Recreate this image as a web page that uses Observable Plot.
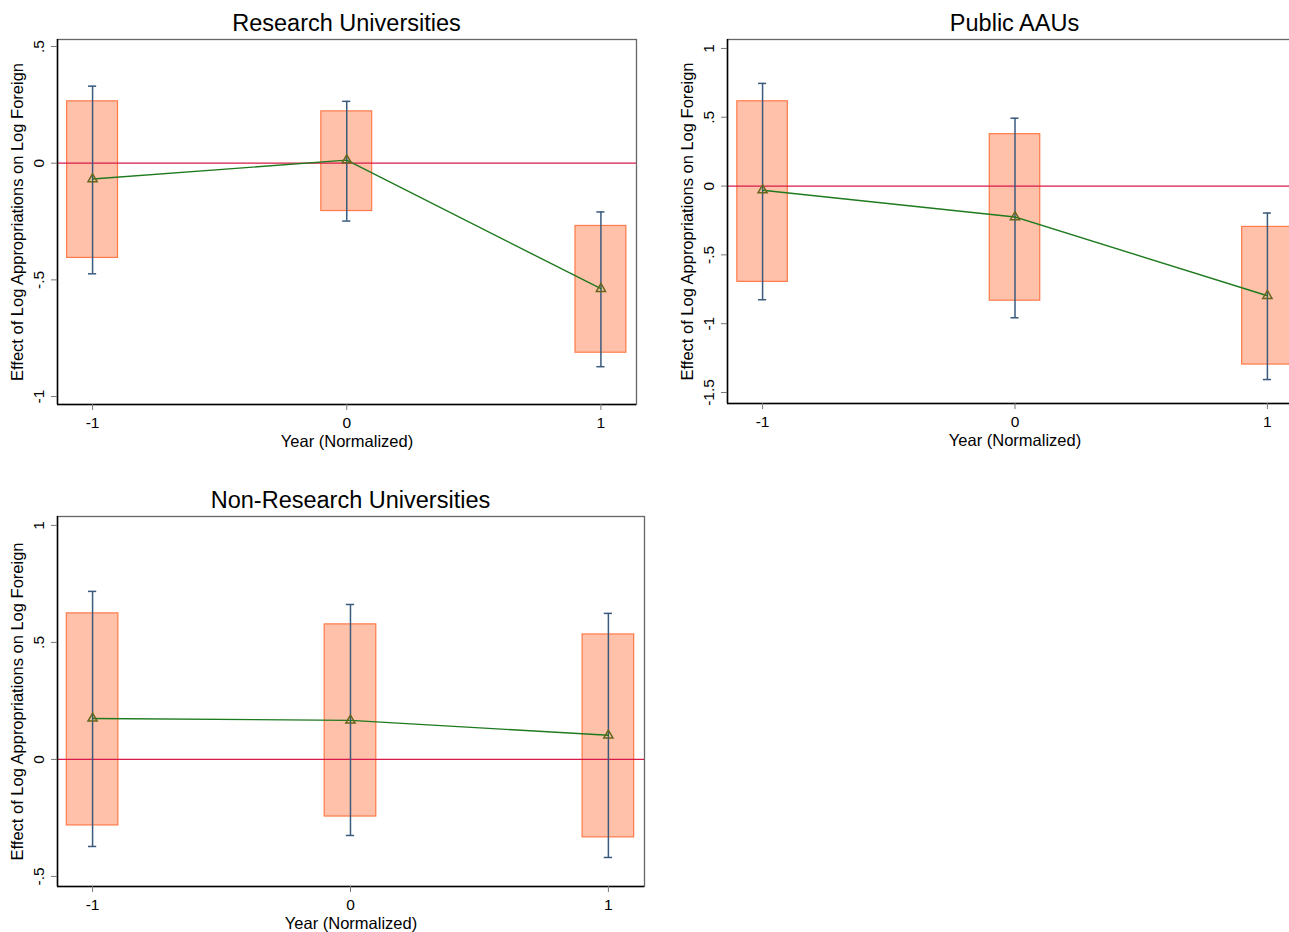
<!DOCTYPE html>
<html><head><meta charset="utf-8">
<script src="https://cdn.jsdelivr.net/npm/d3@7"></script>
<script src="https://cdn.jsdelivr.net/npm/@observablehq/plot@0.6"></script>
<style>
html,body{margin:0;padding:0;background:#fff;overflow:hidden;width:1289px;height:932px;position:relative;}
.panel{position:absolute;}
.panel svg{max-width:none !important;display:block;}
.title{position:absolute;font-family:"Liberation Sans",Arial,sans-serif;font-size:23.5px;color:#000;text-align:center;white-space:nowrap;line-height:26px;}
</style></head><body>
<script>
// ---- data ----
const years = [-1, 0, 1];
const xTicks = [-1, 0, 1];
const xLabel = "Year (Normalized)";
const yLabel = "Effect of Log Appropriations on Log Foreign";

const titles = ["Research Universities", "Public AAUs", "Non-Research Universities"];

// Research Universities
const resEst  = [-0.068, 0.013, -0.538];
const resLo90 = [-0.406, -0.205, -0.812];
const resHi90 = [0.265, 0.222, -0.269];
const resLo95 = [-0.474, -0.248, -0.872];
const resHi95 = [0.330, 0.265, -0.209];
const resTicks = [0.5, 0, -0.5, -1];

// Public AAUs
const aauEst  = [-0.030, -0.225, -0.797];
const aauLo90 = [-0.696, -0.833, -1.297];
const aauHi90 = [0.616, 0.377, -0.297];
const aauLo95 = [-0.826, -0.957, -1.406];
const aauHi95 = [0.746, 0.493, -0.196];
const aauTicks = [1, 0.5, 0, -0.5, -1, -1.5];

// Non-Research Universities
const nonEst  = [0.175, 0.167, 0.103];
const nonLo90 = [-0.282, -0.244, -0.333];
const nonHi90 = [0.624, 0.577, 0.534];
const nonLo95 = [-0.372, -0.325, -0.419];
const nonHi95 = [0.718, 0.662, 0.624];
const nonTicks = [1, 0.5, 0, -0.5];

const FONT = '"Liberation Sans", Arial, sans-serif';
const fmt = d => d === 0 ? "0" : String(d).replace("0.", ".");

function panel(cfg) {
  const data = years.map((x, i) => ({x, est: cfg.est[i], lo90: cfg.lo90[i], hi90: cfg.hi90[i], lo95: cfg.lo95[i], hi95: cfg.hi95[i]}));
  const half = 0.1, cap = 0.016;
  const chart = Plot.plot({
    width: cfg.width, height: cfg.height,
    marginLeft: cfg.ml, marginRight: cfg.mr, marginTop: cfg.mt, marginBottom: cfg.mb,
    style: {fontFamily: FONT, fontSize: "16px", color: "#000", background: "transparent", overflow: "visible", maxWidth: "none"},
    x: {domain: cfg.xDomain},
    y: {domain: cfg.yDomain},
    marks: [
      Plot.rect(data, {x1: d => d.x - half, x2: d => d.x + half, y1: "lo90", y2: "hi90", fill: "#ffc1aa", stroke: "#ff7a48", strokeWidth: 1.2}),
      Plot.ruleY([0], {stroke: "#d81b4a", strokeWidth: 1.3}),
      Plot.ruleX(data, {x: "x", y1: "lo95", y2: "hi95", stroke: "#3a5a7e", strokeWidth: 1.5}),
      Plot.ruleY(data, {y: "lo95", x1: d => d.x - cap, x2: d => d.x + cap, stroke: "#3a5a7e", strokeWidth: 1.5}),
      Plot.ruleY(data, {y: "hi95", x1: d => d.x - cap, x2: d => d.x + cap, stroke: "#3a5a7e", strokeWidth: 1.5}),
      Plot.line(data, {x: "x", y: "est", stroke: "#1e7a1e", strokeWidth: 1.4}),
      Plot.dot(data, {x: "x", y: "est", symbol: "triangle", r: 3.4, stroke: "#66661c", fill: "none", strokeWidth: 1.5}),
      Plot.frame({stroke: "#666", strokeWidth: 1.3}),
      Plot.ruleX([cfg.xDomain[0]], {stroke: "#000", strokeWidth: 1.5}),
      Plot.ruleY([cfg.yDomain[0]], {stroke: "#000", strokeWidth: 1.5}),
      Plot.axisX({ticks: xTicks, tickFormat: d => String(d), tickSize: 6, tickPadding: 6, fontSize: 15.5, stroke: "#777", label: null}),
      Plot.axisX({ticks: [], tickSize: 0, fontSize: 16.5,
        label: xLabel, labelAnchor: "center", labelOffset: 42, labelArrow: "none"}),
      Plot.axisY({ticks: cfg.yTicks, tickFormat: fmt, tickSize: 6, tickPadding: 8, tickRotate: -90, fontSize: 15.5, stroke: "#777", label: null}),
      Plot.axisY({ticks: [], tickSize: 0, fontSize: 16.5,
        label: yLabel, labelAnchor: "center", labelOffset: 46, labelArrow: "none"})
    ]
  });
  const wrap = document.createElement("div");
  wrap.className = "panel";
  wrap.style.left = cfg.left + "px";
  wrap.style.top = cfg.top + "px";
  wrap.style.width = cfg.width + "px";
  wrap.style.height = cfg.height + "px";
  wrap.appendChild(chart);
  const t = document.createElement("div");
  t.className = "title";
  t.textContent = cfg.title;
  t.style.left = cfg.ml + "px";
  t.style.width = (cfg.width - cfg.ml - cfg.mr) + "px";
  t.style.top = cfg.titleTop + "px";
  wrap.appendChild(t);
  document.body.appendChild(wrap);
}

panel({title: titles[0], est: resEst, lo90: resLo90, hi90: resHi90, lo95: resLo95, hi95: resHi95,
  yTicks: resTicks, yDomain: [-1.034, 0.53], xDomain: [-1.138, 1.14],
  left: 0, top: 0, width: 650, height: 460, ml: 57, mr: 14, mt: 39, mb: 56, titleTop: 10});

panel({title: titles[1], est: aauEst, lo90: aauLo90, hi90: aauHi90, lo95: aauLo95, hi95: aauHi95,
  yTicks: aauTicks, yDomain: [-1.58, 1.065], xDomain: [-1.139, 1.139],
  left: 670, top: 0, width: 650, height: 460, ml: 57, mr: 18, mt: 39, mb: 57, titleTop: 10});

panel({title: titles[2], est: nonEst, lo90: nonLo90, hi90: nonHi90, lo95: nonLo95, hi95: nonHi95,
  yTicks: nonTicks, yDomain: [-0.543, 1.038], xDomain: [-1.136, 1.14],
  left: 0, top: 477, width: 660, height: 455, ml: 57, mr: 16, mt: 39, mb: 46, titleTop: 10});
</script>
</body></html>
